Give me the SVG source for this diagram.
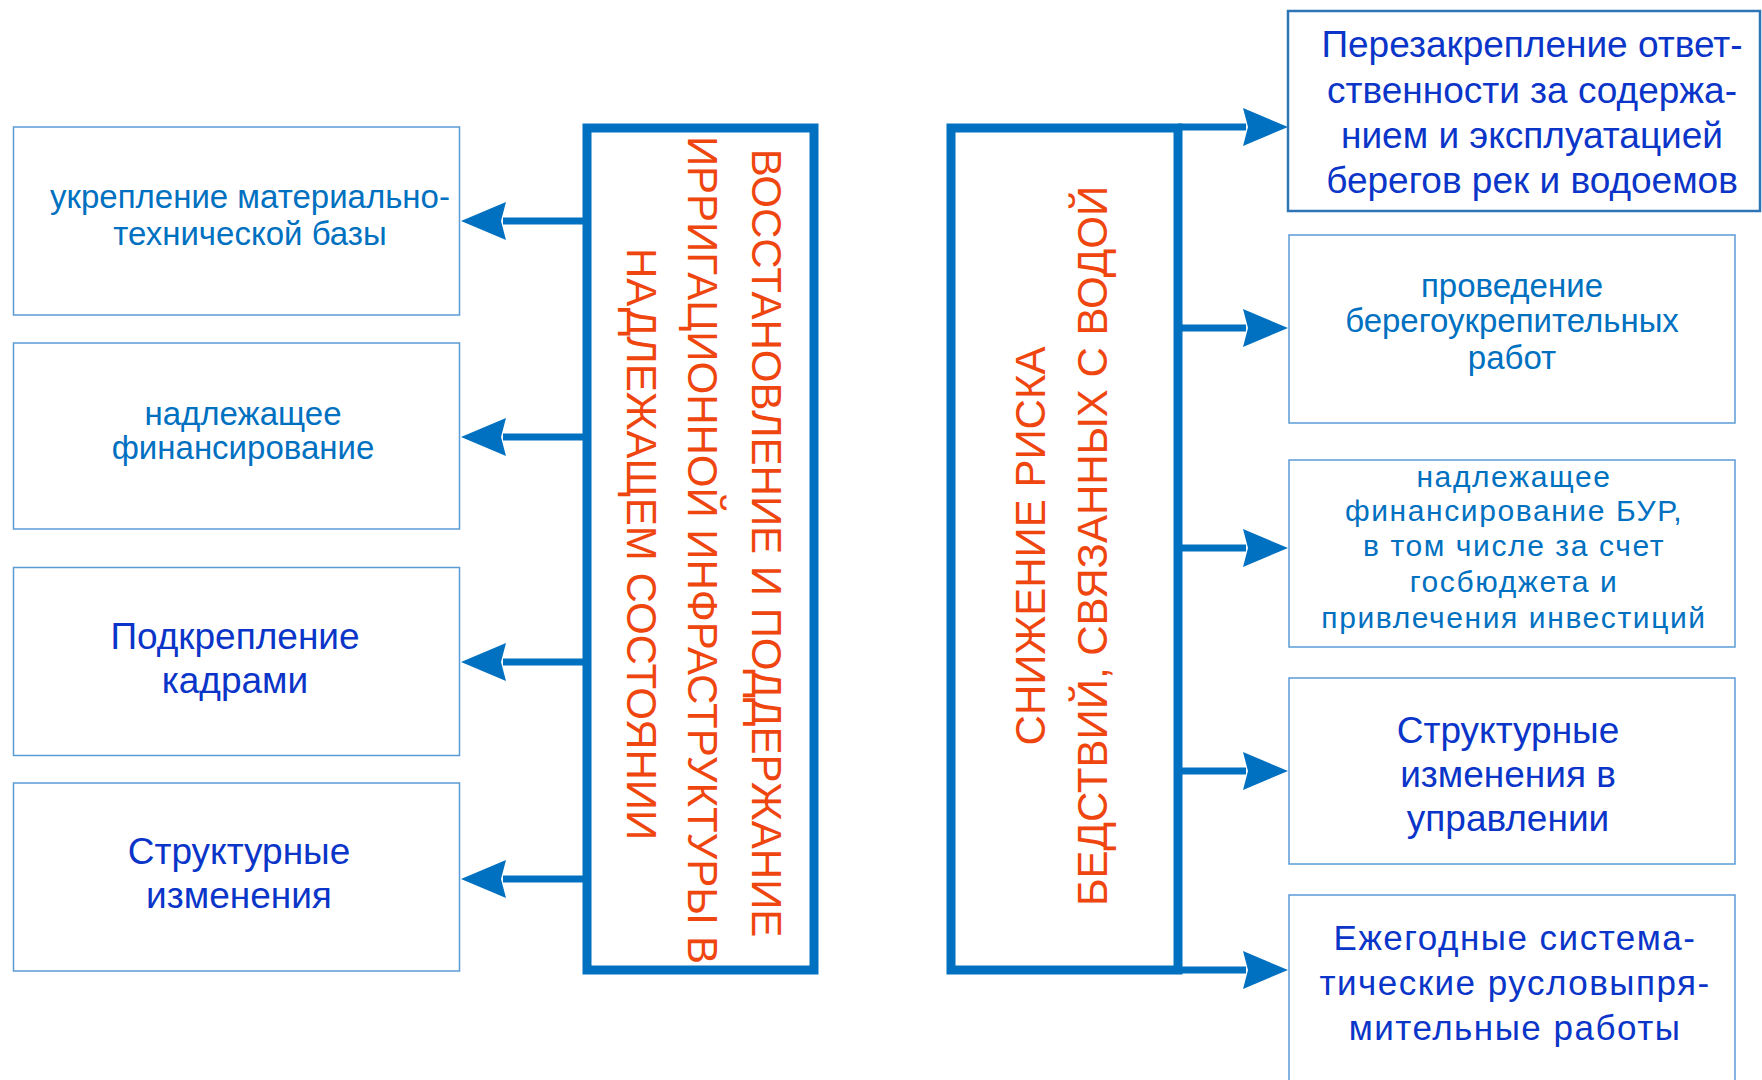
<svg xmlns="http://www.w3.org/2000/svg" width="1762" height="1080" viewBox="0 0 1762 1080">
<style>
  .box{fill:#ffffff;stroke:#5B9BD5;stroke-width:1.5}
  .boxB{fill:#ffffff;stroke:#2E75B6;stroke-width:2.5}
  .main{fill:#ffffff;stroke:#0070C0;stroke-width:9}
  .conn{stroke:#0070C0;stroke-width:7;fill:none}
  text{font-family:"Liberation Sans",Arial,sans-serif;text-anchor:middle}
  .lt{fill:#0070C0}
  .dk{fill:#0A35C8}
  .red{fill:#EF4610;font-size:42px}
</style>
<defs>
  <marker id="ah" viewBox="0 0 45 40" refX="3" refY="20" markerWidth="45" markerHeight="40" markerUnits="userSpaceOnUse" orient="auto">
    <path d="M0,1 L45,20 L0,39 L5,20 Z" fill="#0070C0"/>
  </marker>
</defs>
<rect width="1762" height="1080" fill="#ffffff"/>

<g id="connectors">
  <line class="conn" x1="587" y1="221" x2="503" y2="221" marker-end="url(#ah)"/>
  <line class="conn" x1="587" y1="437" x2="503" y2="437" marker-end="url(#ah)"/>
  <line class="conn" x1="587" y1="662" x2="503" y2="662" marker-end="url(#ah)"/>
  <line class="conn" x1="587" y1="879" x2="503" y2="879" marker-end="url(#ah)"/>
  <line class="conn" x1="1178" y1="127" x2="1246" y2="127" marker-end="url(#ah)"/>
  <line class="conn" x1="1178" y1="328" x2="1246" y2="328" marker-end="url(#ah)"/>
  <line class="conn" x1="1178" y1="548" x2="1246" y2="548" marker-end="url(#ah)"/>
  <line class="conn" x1="1178" y1="771" x2="1246" y2="771" marker-end="url(#ah)"/>
  <line class="conn" x1="1178" y1="970" x2="1246" y2="970" marker-end="url(#ah)"/>
</g>

<g id="main-left">
  <rect class="main" x="587" y="128" width="227" height="842"/>
  <text class="red" transform="translate(752,543) rotate(90)">ВОССТАНОВЛЕНИЕ И ПОДДЕРЖАНИЕ</text>
  <text class="red" transform="translate(688,550) rotate(90)">ИРРИГАЦИОННОЙ ИНФРАСТРУКТУРЫ В</text>
  <text class="red" transform="translate(627,544) rotate(90)">НАДЛЕЖАЩЕМ СОСТОЯНИИ</text>
</g>

<g id="main-right">
  <rect class="main" x="951" y="128" width="227" height="842"/>
  <text class="red" transform="translate(1045,546) rotate(-90)">СНИЖЕНИЕ РИСКА</text>
  <text class="red" transform="translate(1107,546) rotate(-90)">БЕДСТВИЙ, СВЯЗАННЫХ С ВОДОЙ</text>
</g>

<g id="left-1">
  <rect class="box" x="13.5" y="127" width="446" height="188"/>
  <text class="lt" font-size="33" x="250" y="208">укрепление материально-</text>
  <text class="lt" font-size="33" x="250" y="245">технической базы</text>
</g>
<g id="left-2">
  <rect class="box" x="13.5" y="343" width="446" height="186"/>
  <text class="lt" font-size="33" x="243" y="425">надлежащее</text>
  <text class="lt" font-size="33" x="243" y="459">финансирование</text>
</g>
<g id="left-3">
  <rect class="box" x="13.5" y="567.5" width="446" height="188"/>
  <text class="dk" font-size="37" x="235" y="649">Подкрепление</text>
  <text class="dk" font-size="37" x="235" y="693">кадрами</text>
</g>
<g id="left-4">
  <rect class="box" x="13.5" y="783" width="446" height="188"/>
  <text class="dk" font-size="37" x="239" y="864">Структурные</text>
  <text class="dk" font-size="37" x="239" y="908">изменения</text>
</g>

<g id="right-1">
  <rect class="boxB" x="1288" y="11" width="472" height="200"/>
  <text class="dk" font-size="37" x="1532" y="57">Перезакрепление ответ-</text>
  <text class="dk" font-size="37" x="1532" y="103">ственности за содержа-</text>
  <text class="dk" font-size="37" x="1532" y="148">нием и эксплуатацией</text>
  <text class="dk" font-size="37" x="1532" y="193">берегов рек и водоемов</text>
</g>
<g id="right-2">
  <rect class="box" x="1289" y="235" width="446" height="188"/>
  <text class="lt" font-size="33" x="1512" y="297">проведение</text>
  <text class="lt" font-size="33" x="1512" y="332">берегоукрепительных</text>
  <text class="lt" font-size="33" x="1512" y="369">работ</text>
</g>
<g id="right-3">
  <rect class="box" x="1289" y="460" width="446" height="187"/>
  <text class="lt" font-size="30" letter-spacing="1.6" x="1514" y="487">надлежащее</text>
  <text class="lt" font-size="30" letter-spacing="1.6" x="1514" y="521">финансирование БУР,</text>
  <text class="lt" font-size="30" letter-spacing="1.6" x="1514" y="556">в том числе за счет</text>
  <text class="lt" font-size="30" letter-spacing="1.6" x="1514" y="592">госбюджета и</text>
  <text class="lt" font-size="30" letter-spacing="1.6" x="1514" y="628">привлечения инвестиций</text>
</g>
<g id="right-4">
  <rect class="box" x="1289" y="678" width="446" height="186"/>
  <text class="dk" font-size="37" x="1508" y="743">Структурные</text>
  <text class="dk" font-size="37" x="1508" y="787">изменения в</text>
  <text class="dk" font-size="37" x="1508" y="831">управлении</text>
</g>
<g id="right-5">
  <rect class="box" x="1289" y="895" width="446" height="200"/>
  <text class="dk" font-size="35" letter-spacing="1.5" x="1515" y="950">Ежегодные система-</text>
  <text class="dk" font-size="35" letter-spacing="1.5" x="1515" y="995">тические русловыпря-</text>
  <text class="dk" font-size="35" letter-spacing="1.5" x="1515" y="1040">мительные работы</text>
</g>
</svg>
